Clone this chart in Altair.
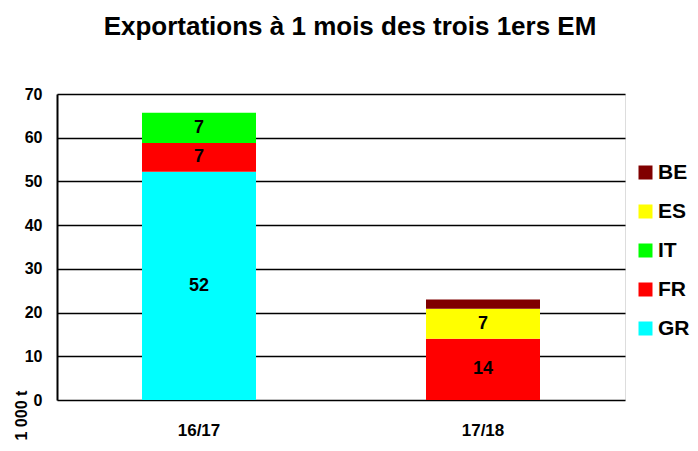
import altair as alt
import pandas as pd

seasons = ["16/17", "16/17", "16/17", "17/18", "17/18", "17/18"]
countries = ["GR", "FR", "IT", "FR", "ES", "BE"]
values = [52.2, 6.6, 6.9, 14.0, 6.9, 2.1]
labels = ["52", "7", "7", "14", "7", ""]

legend_order = ["BE", "ES", "IT", "FR", "GR"]
colors = ["#800000", "#FFFF00", "#00FF00", "#FF0000", "#00FFFF"]
stack_rank = {"GR": 0, "FR": 1, "IT": 2, "ES": 3, "BE": 4}

df = pd.DataFrame({
    "season": seasons,
    "country": countries,
    "value": values,
    "label": labels,
})
df["rank"] = df["country"].map(stack_rank)

FONT = "Liberation Sans"

base = alt.Chart(df)

bars = base.mark_bar(size=114).encode(
    x=alt.X("season:N", title=None, sort=["16/17", "17/18"],
            scale=alt.Scale(paddingInner=0.6, paddingOuter=0.3),
            axis=alt.Axis(labelFont=FONT, labelFontWeight="bold", labelFontSize=17,
                          labelAngle=0, labelPadding=22, ticks=False, domain=False,
                          labelColor="black")),
    y=alt.Y("sum(value):Q", title="1 000 t",
            scale=alt.Scale(domain=[0, 70], nice=False),
            axis=alt.Axis(values=[0, 10, 20, 30, 40, 50, 60, 70], grid=True,
                          gridColor="black", gridOpacity=1, gridWidth=1.5,
                          domainColor="black", domainWidth=2, ticks=False,
                          labelFont=FONT, labelFontWeight="bold", labelFontSize=16,
                          labelColor="black", labelPadding=15,
                          titleFont=FONT, titleFontWeight="bold", titleFontSize=16,
                          titleColor="black", titleAngle=-90, titleAlign="left",
                          titleBaseline="middle", titleX=-36, titleY=346)),
    color=alt.Color("country:N", scale=alt.Scale(domain=legend_order, range=colors),
                    legend=alt.Legend(title=None, orient="none", legendX=578, legendY=68,
                                      symbolType="square", symbolSize=196,
                                      symbolStrokeWidth=0, symbolOpacity=1,
                                      labelFont=FONT, labelFontWeight="bold",
                                      labelFontSize=21, labelColor="black",
                                      rowPadding=17, labelOffset=2)),
    order=alt.Order("rank:Q", sort="ascending"),
)

text = base.transform_stack(
    stack="value", groupby=["season"], as_=["v0", "v1"],
    sort=[alt.SortField("rank", order="ascending")]
).transform_calculate(
    mid="(datum.v0 + datum.v1) / 2"
).transform_filter("datum.label != ''").mark_text(
    font=FONT, fontWeight="bold", fontSize=18, color="black", baseline="middle"
).encode(
    x=alt.X("season:N", sort=["16/17", "17/18"]),
    y=alt.Y("mid:Q"),
    text="label:N",
)

chart = alt.layer(bars, text).properties(
    width=568, height=306,
    title=alt.TitleParams("Exportations à 1 mois des trois 1ers EM", font=FONT,
                          fontSize=26, fontWeight="bold", color="black",
                          anchor="middle", dx=9, offset=46),
    padding={"left": 49, "top": 86, "right": 65, "bottom": 43},
    autosize=alt.AutoSizeParams(type="none"),
).configure_view(stroke=None).configure(background="white")

chart.save("out.html", embed_options={"renderer": "svg", "actions": False})
